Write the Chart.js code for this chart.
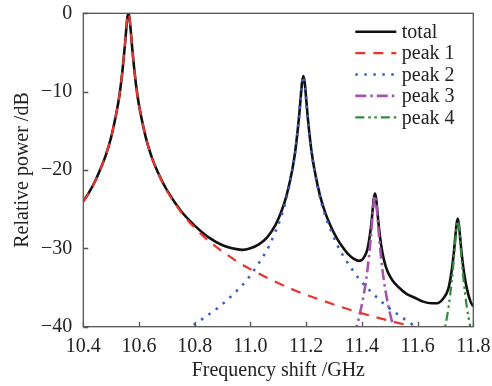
<!DOCTYPE html>
<html>
<head>
<meta charset="utf-8">
<script src="https://cdn.jsdelivr.net/npm/chart.js@4/dist/chart.umd.min.js"></script>
<style>
  html, body { margin: 0; padding: 0; background: #fff; }
  #wrap { width: 492px; height: 386px; }
</style>
</head>
<body>
<div id="wrap"><canvas id="c" width="492" height="386"></canvas></div>
<script>
// Axis ticks
const xTickValues = [10.4, 10.6, 10.8, 11.0, 11.2, 11.4, 11.6, 11.8];
const xTickLabels = ['10.4', '10.6', '10.8', '11.0', '11.2', '11.4', '11.6', '11.8'];
const yTickValues = [0, -10, -20, -30, -40];
const yTickLabels = ['0', '\u221210', '\u221220', '\u221230', '\u221240'];

// Series names
const seriesNames = ['total', 'peak 1', 'peak 2', 'peak 3', 'peak 4'];

// Total spectrum (GHz, dB)
const freqTotal = [10.40, 10.42, 10.44, 10.46, 10.48, 10.50, 10.52, 10.53, 10.54, 10.55, 10.555, 10.558, 10.562,
  10.566, 10.569, 10.574, 10.584, 10.594, 10.604, 10.624, 10.644, 10.664, 10.684, 10.704, 10.75, 10.80, 10.85,
  10.90, 10.95, 10.97, 11.00, 11.03, 11.06, 11.09, 11.11, 11.13, 11.15, 11.16, 11.17, 11.175, 11.18, 11.185,
  11.19, 11.195, 11.20, 11.205, 11.21, 11.22, 11.23, 11.25, 11.27, 11.29, 11.31, 11.33, 11.35, 11.37, 11.39,
  11.40, 11.41, 11.42, 11.43, 11.435, 11.44, 11.443, 11.447, 11.451, 11.454, 11.459, 11.464, 11.474, 11.484,
  11.494, 11.51, 11.53, 11.56, 11.59, 11.62, 11.65, 11.67, 11.69, 11.71, 11.72, 11.73, 11.735, 11.74, 11.744,
  11.748, 11.753, 11.758, 11.768, 11.778, 11.79, 11.80];
const powerTotal = [-24.0, -22.9, -21.6, -20.0, -18.2, -15.8, -12.5, -10.4, -7.5, -3.8, -1.7, -0.6, 0,
  -0.6, -1.7, -3.8, -7.5, -10.4, -12.5, -15.8, -18.2, -20.0, -21.5, -22.8, -25.2, -27.1, -28.6,
  -29.6, -30.1, -30.2, -30.0, -29.5, -28.6, -27.0, -25.4, -23.2, -20.0, -17.8, -14.8, -13.0, -10.9, -8.9,
  -8.0, -8.9, -10.9, -13.0, -14.8, -17.8, -20.0, -23.3, -25.6, -27.3, -28.7, -29.8, -30.7, -31.3, -31.6,
  -31.5, -31.0, -30.1, -28.0, -26.5, -24.6, -23.6, -23.0, -23.6, -24.6, -26.6, -28.2, -30.6, -32.1,
  -33.1, -34.1, -34.9, -35.8, -36.3, -36.8, -37.0, -37.0, -36.5, -35.2, -33.4, -30.6, -28.7, -26.9, -26.2,
  -26.9, -28.7, -30.6, -33.4, -35.3, -36.8, -37.4];

// Peak 1
const freqPeak1 = [10.40, 10.42, 10.44, 10.46, 10.48, 10.50, 10.52, 10.53, 10.54, 10.55, 10.555, 10.558, 10.562,
  10.566, 10.569, 10.574, 10.584, 10.594, 10.604, 10.624, 10.644, 10.664, 10.684, 10.704, 10.724, 10.762,
  10.812, 10.862, 10.912, 10.962, 11.062, 11.162, 11.262, 11.362, 11.462, 11.562, 11.662];
const powerPeak1 = [-24.0, -22.9, -21.6, -20.0, -18.2, -15.8, -12.5, -10.4, -7.5, -3.8, -1.7, -0.6, 0,
  -0.6, -1.7, -3.8, -7.5, -10.4, -12.5, -15.8, -18.2, -20.0, -21.6, -22.9, -24.0, -25.9,
  -27.8, -29.4, -30.7, -31.9, -33.8, -35.4, -36.7, -37.9, -38.9, -39.8, -40.7];

// Peak 2
const freqPeak2 = [10.74, 10.79, 10.84, 10.89, 10.94, 10.99, 11.028, 11.048, 11.068, 11.088, 11.108, 11.128,
  11.148, 11.158, 11.168, 11.178, 11.183, 11.186, 11.19, 11.194, 11.197, 11.202, 11.212, 11.222, 11.232,
  11.252, 11.272, 11.292, 11.312, 11.332, 11.352, 11.39, 11.44, 11.49, 11.54, 11.59, 11.64];
const powerPeak2 = [-40.9, -39.9, -38.7, -37.4, -35.8, -33.9, -32.0, -30.9, -29.6, -28.0, -26.2, -23.8,
  -20.5, -18.4, -15.5, -11.8, -9.7, -8.6, -8.0, -8.6, -9.7, -11.8, -15.5, -18.4, -20.5,
  -23.8, -26.2, -28.0, -29.6, -30.9, -32.0, -33.9, -35.8, -37.4, -38.7, -39.9, -40.9];

// Peak 3
const freqPeak3 = [11.372, 11.387, 11.402, 11.415, 11.425, 11.432, 11.437, 11.441, 11.444, 11.447,
  11.450, 11.453, 11.457, 11.462, 11.469, 11.479, 11.492, 11.507, 11.522];
const powerPeak3 = [-41.1, -39.2, -36.8, -34.1, -31.2, -28.6, -26.4, -24.7, -23.7, -23.3,
  -23.7, -24.7, -26.4, -28.6, -31.2, -34.1, -36.8, -39.2, -41.1];

// Peak 4
const freqPeak4 = [11.684, 11.699, 11.712, 11.722, 11.729, 11.734, 11.738, 11.741, 11.744,
  11.747, 11.750, 11.754, 11.759, 11.766, 11.776, 11.789, 11.804];
const powerPeak4 = [-42.4, -40.0, -37.3, -34.4, -31.8, -29.6, -27.9, -26.9, -26.5,
  -26.9, -27.9, -29.6, -31.8, -34.4, -37.3, -40.0, -42.4];

const pairs = (xs, ys) => xs.map((v, i) => ({ x: v, y: ys[i] }));

const FONT = '"Liberation Serif", "Times New Roman", serif';
const AXIS_COLOR = '#555';
const TEXT_COLOR = '#222';

// Box frame, inward tick marks and the in-plot legend
const framePlugin = {
  id: 'frameTicksLegend',
  afterDatasetsDraw(chart) {
    const { ctx, chartArea: a, scales: { x, y } } = chart;
    ctx.save();
    ctx.strokeStyle = AXIS_COLOR;
    ctx.lineWidth = 1.3;
    ctx.setLineDash([]);
    ctx.strokeRect(a.left, a.top, a.right - a.left, a.bottom - a.top);
    ctx.beginPath();
    xTickValues.forEach(v => {
      const px = Math.round(x.getPixelForValue(v)) + 0.5;
      ctx.moveTo(px, a.bottom);
      ctx.lineTo(px, a.bottom - 5);
    });
    yTickValues.forEach(v => {
      const py = Math.round(y.getPixelForValue(v)) + 0.5;
      ctx.moveTo(a.left, py);
      ctx.lineTo(a.left + 5, py);
    });
    ctx.stroke();

    // legend
    const x0 = a.right - 118, x1 = a.right - 77, tx = a.right - 71.5;
    chart.data.datasets.forEach((ds, i) => {
      const ly = a.top + 18.4 + i * 21.4;
      ctx.beginPath();
      ctx.setLineDash(ds.borderDash || []);
      ctx.strokeStyle = ds.borderColor;
      ctx.lineWidth = ds.borderWidth;
      ctx.moveTo(x0, ly);
      ctx.lineTo(x1, ly);
      ctx.stroke();
      ctx.setLineDash([]);
      ctx.fillStyle = TEXT_COLOR;
      ctx.font = '20px ' + FONT;
      ctx.textBaseline = 'middle';
      ctx.textAlign = 'left';
      ctx.fillText(ds.label, tx, ly + 1);
    });
    ctx.restore();
  }
};

// Pin the axis boxes so the plot area sits where intended
const zeroPad = s => { s.paddingLeft = 0; s.paddingRight = 0; s.paddingTop = 0; s.paddingBottom = 0; };

const common = { pointRadius: 0, fill: false, cubicInterpolationMode: 'monotone' };

new Chart(document.getElementById('c'), {
  type: 'line',
  data: {
    datasets: [
      { ...common, label: seriesNames[0], data: pairs(freqTotal, powerTotal), borderColor: '#111', borderWidth: 2.6, order: 5 },
      { ...common, label: seriesNames[1], data: pairs(freqPeak1, powerPeak1), borderColor: '#e8352d', borderWidth: 2.2, borderDash: [10, 8], order: 1 },
      { ...common, label: seriesNames[2], data: pairs(freqPeak2, powerPeak2), borderColor: '#3a5fc4', borderWidth: 2.6, borderDash: [2.5, 6.5], order: 2 },
      { ...common, label: seriesNames[3], data: pairs(freqPeak3, powerPeak3), borderColor: '#a653ad', borderWidth: 2.6, borderDash: [11, 4, 2.5, 4], order: 3 },
      { ...common, label: seriesNames[4], data: pairs(freqPeak4, powerPeak4), borderColor: '#2f8c3c', borderWidth: 2.2, borderDash: [9, 4, 2.5, 3.5, 2.5, 4], order: 4 }
    ]
  },
  options: {
    responsive: false,
    animation: false,
    devicePixelRatio: 1,
    layout: { padding: { left: 0, top: 13.3, right: 18.7, bottom: 0 } },
    plugins: { legend: { display: false }, tooltip: { enabled: false } },
    scales: {
      x: {
        type: 'linear',
        min: 10.4,
        max: 11.8,
        afterBuildTicks: s => { s.ticks = xTickValues.map(v => ({ value: v })); },
        afterFit: s => { s.height = 59.3; zeroPad(s); },
        grid: { display: false, drawTicks: false },
        border: { display: false },
        ticks: {
          autoSkip: false,
          maxRotation: 0,
          padding: 8,
          color: TEXT_COLOR,
          font: { family: FONT, size: 20 },
          callback: (v, i) => xTickLabels[i]
        },
        title: {
          display: true,
          text: 'Frequency shift /GHz',
          color: TEXT_COLOR,
          font: { family: FONT, size: 20 },
          padding: { top: 0, bottom: 3 }
        }
      },
      y: {
        min: -40,
        max: 0,
        afterBuildTicks: s => { s.ticks = yTickValues.map(v => ({ value: v })); },
        afterFit: s => { s.width = 83.3; zeroPad(s); },
        grid: { display: false, drawTicks: false },
        border: { display: false },
        ticks: {
          autoSkip: false,
          padding: 11,
          color: TEXT_COLOR,
          font: { family: FONT, size: 20 },
          callback: (v, i) => yTickLabels[i]
        },
        title: {
          display: true,
          text: 'Relative power /dB',
          color: TEXT_COLOR,
          font: { family: FONT, size: 20 },
          padding: { top: 11, bottom: 0 }
        }
      }
    }
  },
  plugins: [framePlugin]
});
</script>
</body>
</html>
